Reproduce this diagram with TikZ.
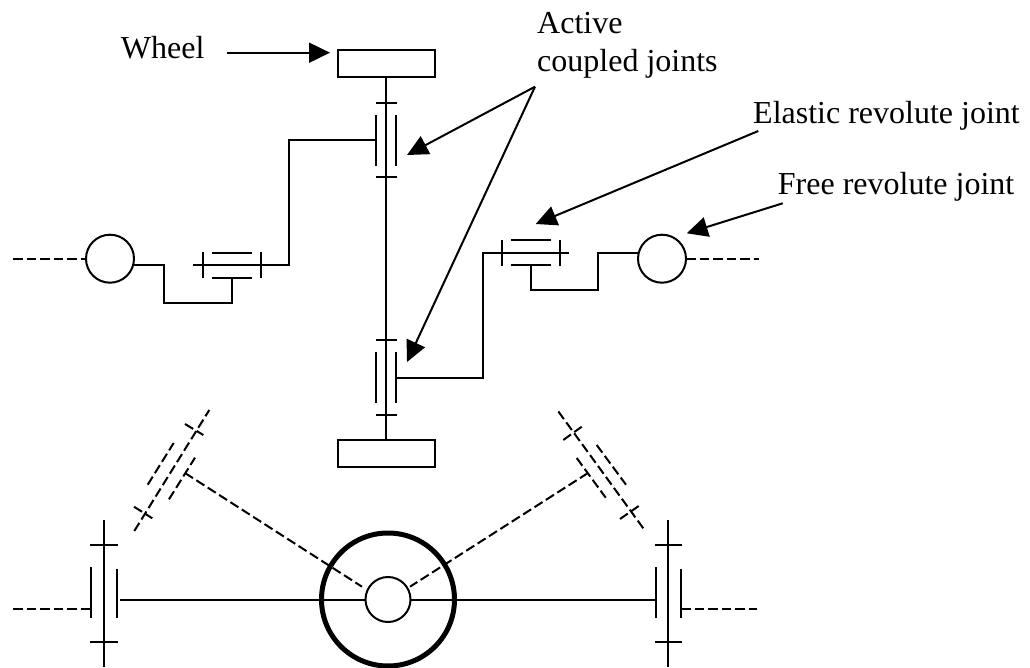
\documentclass[tikz,border=0pt]{standalone}
\usepackage{fontspec}
\setmainfont{Liberation Serif}
\usetikzlibrary{arrows.meta}
\tikzset{
  lnk/.style={line width=2pt,line join=miter},
  dsh/.style={line width=2pt,dash pattern=on 9.5pt off 4pt},
  lead/.style={line width=2pt,-{Triangle[length=21pt,width=20pt]}},
  wheelbox/.style={draw,line width=2pt,minimum width=97pt,minimum height=27pt,inner sep=0pt,outer sep=0pt},
  hinge/.style={draw,circle,line width=2pt,minimum size=48pt,inner sep=0pt,outer sep=0pt},
  hub/.style={draw,circle,line width=2pt,minimum size=45pt,inner sep=0pt,outer sep=0pt},
  rim/.style={draw,circle,line width=5pt,minimum size=133pt,inner sep=0pt,outer sep=0pt},
  lab/.style={anchor=base west,inner sep=0pt,font=\fontsize{32pt}{36pt}\selectfont}
}
\begin{document}
\begin{tikzpicture}[x=1pt,y=-1pt]
\useasboundingbox (0,0) rectangle (1030,668);
% labels
\node[lab] (tw) at (120.7,58.3) {Wheel};
\node[lab] (ta) at (537,33.3) {Active};
\node[lab] (tc) at (537,71.7) {coupled joints};
\node[lab] (te) at (753,123.3) {Elastic revolute joint};
\node[lab] (tf) at (777.7,195) {Free revolute joint};
% wheels
\node[wheelbox] (wt) at (386,64) {};
\node[wheelbox] (wb) at (386,453) {};
\draw[lnk] (wt.south) -- (wb.north);
% upper joint
\draw[lnk] (375.5,102.7) -- (396.5,102.7);
\draw[lnk] (375.5,177) -- (396.5,177);
\draw[lnk] (376,115) -- (376,166);
\draw[lnk] (395.7,115) -- (395.7,166);
% lower joint
\draw[lnk] (375.5,340) -- (396.5,340);
\draw[lnk] (375.5,415) -- (396.5,415);
\draw[lnk] (376,352.3) -- (376,403.3);
\draw[lnk] (395.7,352.3) -- (395.7,403.3);
% left free joint and elastic joint
\node[hinge] (hl) at (110,258.7) {};
\node[hinge] (hr) at (662,258.7) {};
\coordinate (dl) at (13,258.7);
\coordinate (dr) at (759,258.7);
\draw[dsh] (dl) -- (hl.west);
\draw[dsh] (hr.east) -- (dr);
\draw[lnk] (376,140) -- (289,140) -- (289,265.3) -- (192.5,265.3);
\draw[lnk] (203,252) -- (203,278);
\draw[lnk] (261,252) -- (261,278);
\draw[lnk] (212,252.7) -- (251.5,252.7);
\draw[lnk] (212,278) -- (251.5,278);
\draw[lnk] (231.5,278) -- (231.5,302.7) -- (164,302.7) -- (164,265.3) -- (133,265.3);
% right elastic joint
\draw[lnk] (395.7,377.5) -- (482.7,377.5) -- (482.7,252.7) -- (569.3,252.7);
\draw[lnk] (501.7,240) -- (501.7,265.7);
\draw[lnk] (559.7,240) -- (559.7,265.7);
\draw[lnk] (510.7,240) -- (550.7,240);
\draw[lnk] (510.7,265.3) -- (550.7,265.3);
\draw[lnk] (530.7,265.3) -- (530.7,290) -- (598.3,290) -- (598.3,252.7) -- (638.5,252.7);
% leaders
\coordinate (a0) at (535,86.7);
\draw[lead] (227.3,52.7) -- (330,52.7);
\draw[lead] (a0) -- (407,155);
\draw[lead] (a0) -- (407,362);
\draw[lead] (758.3,131) -- (535.7,224);
\draw[lead] (782.7,203.3) -- (686.7,233.3);
% bottom view
\node[rim] (rim) at (388,599.5) {};
\node[hub] (hub) at (388,599.5) {};
\draw[lnk] (120,599.5) -- (hub.west);
\draw[lnk] (hub.east) -- (655.5,599.5);
% bottom left joint
\draw[lnk] (103.7,520) -- (103.7,667);
\draw[lnk] (90,544.7) -- (117.5,544.7);
\draw[lnk] (90,642.3) -- (117.5,642.3);
\draw[lnk] (90.7,566.7) -- (90.7,618);
\draw[lnk] (116.7,568.7) -- (116.7,618);
\draw[dsh] (13,608.7) -- (90,608.7);
% bottom right joint
\draw[lnk] (668,520) -- (668,667);
\draw[lnk] (654.7,544.7) -- (681.7,544.7);
\draw[lnk] (654.7,642.3) -- (681.7,642.3);
\draw[lnk] (655.5,567) -- (655.5,618);
\draw[lnk] (680.7,568.7) -- (680.7,618);
\draw[dsh] (681,608.7) -- (757,608.7);
% dashed left ghost
\draw[dsh] (134.3,531) -- (209.3,410);
\draw[dsh] (134,506.7) -- (152.3,518.3);
\draw[dsh] (185,424) -- (203.3,435);
\draw[dsh] (147.7,484.7) -- (173.7,443);
\draw[dsh] (169,499.3) -- (195,457.7);
\draw[dsh] (185,473) -- (362,586.7);
% dashed right ghost
\draw[dsh] (643.3,528.3) -- (558,411);
\draw[dsh] (563.3,440) -- (581.7,426.7);
\draw[dsh] (620,519) -- (638.7,506);
\draw[dsh] (596.7,445) -- (626,484.7);
\draw[dsh] (576.7,458) -- (605.7,497.7);
\draw[dsh] (588,473) -- (410,586.7);
\end{tikzpicture}
\end{document}
